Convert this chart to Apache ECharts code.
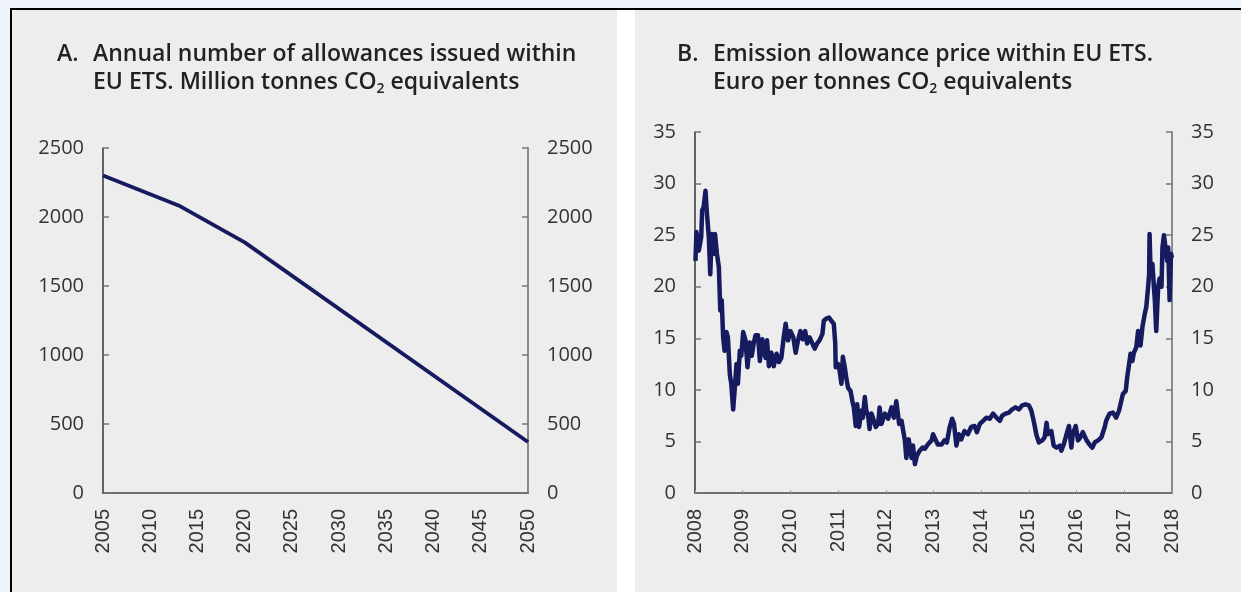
<!DOCTYPE html>
<html>
<head>
<meta charset="utf-8">
<script src="https://cdn.jsdelivr.net/npm/echarts@6/dist/echarts.min.js"></script>
<style>
html,body{margin:0;padding:0;background:#eef3fb;}
#c{width:1241px;height:592px;}
</style>
</head>
<body>
<div id="c"></div>
<script>
// Panel A: annual allowances (million tonnes CO2 eq.)
const allowYears = [2005, 2013, 2020, 2050];
const allowValues = [2300, 2084, 1816, 370];
const allowXTicks = [2005, 2010, 2015, 2020, 2025, 2030, 2035, 2040, 2045, 2050];
const allowYTicks = [0, 500, 1000, 1500, 2000, 2500];

// Panel B: allowance price (euro per tonne), time as fractional year
const priceTimes = [
 2008.01,2008.03,2008.08,2008.13,2008.15,2008.18,2008.22,2008.25,2008.29,2008.32,2008.35,2008.40,2008.42,2008.46,2008.50,2008.53,2008.56,2008.59,2008.62,2008.66,2008.69,2008.73,2008.76,2008.80,2008.83,2008.87,2008.90,2008.94,2008.97,
 2009.01,2009.06,2009.10,2009.15,2009.19,2009.23,2009.27,2009.32,2009.36,2009.41,2009.45,2009.48,2009.51,2009.55,2009.60,2009.65,2009.71,2009.76,2009.81,2009.86,2009.90,2009.95,
 2010.00,2010.06,2010.11,2010.16,2010.21,2010.26,2010.31,2010.35,2010.40,2010.46,2010.51,2010.56,2010.61,2010.67,2010.70,2010.75,2010.81,2010.86,2010.91,2010.94,2010.95,
 2011.00,2011.03,2011.07,2011.10,2011.14,2011.17,2011.21,2011.26,2011.30,2011.33,2011.37,2011.40,2011.44,2011.49,2011.52,2011.56,2011.59,2011.63,2011.66,2011.70,2011.75,2011.79,2011.84,2011.87,2011.91,2011.98,
 2012.05,2012.12,2012.17,2012.22,2012.28,2012.33,2012.40,2012.43,2012.48,2012.54,2012.57,2012.61,2012.65,2012.71,2012.77,2012.82,2012.88,2012.96,2012.99,
 2013.05,2013.09,2013.17,2013.23,2013.28,2013.34,2013.39,2013.43,2013.48,2013.53,2013.58,2013.65,2013.72,2013.79,2013.86,2013.91,2013.97,
 2014.04,2014.11,2014.18,2014.25,2014.32,2014.39,2014.44,2014.51,2014.58,2014.65,2014.72,2014.79,2014.86,2014.93,
 2015.00,2015.05,2015.10,2015.16,2015.21,2015.28,2015.33,2015.37,2015.40,2015.47,2015.52,2015.58,2015.65,2015.68,2015.73,2015.79,2015.84,2015.89,2015.92,2015.98,
 2016.03,2016.08,2016.13,2016.21,2016.27,2016.33,2016.38,2016.45,2016.52,2016.59,2016.62,2016.69,2016.76,2016.83,2016.89,2016.94,2016.97,
 2017.03,2017.06,2017.10,2017.13,2017.17,2017.20,2017.25,2017.29,2017.32,2017.34,2017.38,2017.43,2017.46,2017.50,2017.52,2017.53,2017.55,2017.59,2017.62,2017.64,2017.67,2017.71,2017.74,2017.78,2017.80,2017.83,2017.87,2017.90,2017.92,2017.95,2017.98,2018.00
];
const priceValues = [
 22.5,25.3,23.5,24.8,27.4,27.7,29.3,27.1,24.8,21.2,25.1,23.2,25.1,23.2,21.9,17.7,18.7,15.1,13.8,15.6,15.1,11.5,10.6,8.1,9.9,12.5,10.6,13.8,13.3,
 15.6,14.8,12.2,14.6,13.3,14.5,15.3,15.3,12.8,14.9,13.6,13.1,14.8,12.3,13.6,12.3,13.5,12.7,13.1,15.1,16.4,14.8,
 15.7,15.1,13.6,14.8,15.7,14.9,15.7,14.5,15.1,14.5,14.0,14.5,14.8,15.4,16.7,16.9,17.0,16.7,16.4,14.5,12.2,
 12.5,11.9,10.6,13.2,12.2,11.2,10.2,9.9,8.9,8.3,6.5,8.6,6.4,8.0,7.3,9.3,8.0,7.5,6.2,7.7,7.0,6.4,6.7,8.3,6.7,7.7,
 7.2,8.3,7.3,8.9,6.7,7.0,5.1,3.4,5.2,3.4,4.6,2.8,3.6,4.1,4.4,4.3,4.7,5.1,5.7,
 5.1,4.7,4.7,5.1,4.9,6.4,7.2,6.7,4.6,5.7,5.2,6.0,5.7,6.4,6.5,5.9,6.7,
 7.0,7.3,7.2,7.7,7.3,7.0,7.5,7.7,7.8,8.1,8.3,8.1,8.5,8.6,
 8.5,8.0,7.0,5.6,4.9,5.1,5.4,6.8,5.7,6.0,4.6,4.4,4.6,4.1,4.7,5.7,6.5,4.4,5.7,6.5,
 5.1,5.4,5.9,5.1,4.7,4.4,4.9,5.1,5.4,6.4,7.0,7.7,7.8,7.3,8.0,9.0,9.6,
 9.9,11.2,12.5,13.5,12.8,13.6,14.1,15.7,15.4,14.3,16.1,17.4,18.0,20.0,21.2,25.1,21.6,22.2,20.0,18.7,15.7,20.0,20.8,20.0,23.8,25.0,25.0,22.5,23.8,18.7,23.2,22.8
];
const priceXTicks = [2008,2009,2010,2011,2012,2013,2014,2015,2016,2017,2018];
const priceYTicks = [0,5,10,15,20,25,30,35];

const titleA1 = 'Annual number of allowances issued within';
const titleA2 = 'EU ETS. Million tonnes CO';
const titleB1 = 'Emission allowance price within EU ETS.';
const titleB2 = 'Euro per tonnes CO';
const titleTail = ' equivalents';

const lineColor = '#151b5e';
const txt = '#333333';
const fontMain = '"Open Sans", sans-serif';
const fontX = '"Liberation Sans", Arial, sans-serif';

const chart = echarts.init(document.getElementById('c'), null, {renderer: 'canvas'});

const titleRich = {
  sub: {fontSize: 14, fontWeight: 600, fontFamily: fontMain, color: '#222', lineHeight: 14, padding: [14, 0, 0, 0], verticalAlign: 'bottom'}
};
function mkTitle(left, text) {
  return {
    left: left, top: 40, padding: 0,
    text: text,
    textStyle: {fontFamily: fontMain, fontSize: 23, fontWeight: 600, color: '#222', lineHeight: 28, rich: titleRich}
  };
}

function yAxes(gi, ticks) {
  const mn = ticks[0], mx = ticks[ticks.length - 1], iv = ticks[1] - ticks[0];
  const common = {
    type: 'value', gridIndex: gi, min: mn, max: mx, interval: iv,
    splitLine: {show: false},
    axisTick: {show: true, inside: true, length: 6, lineStyle: {color: '#777', width: 1.5}},
    axisLabel: {margin: 19, fontFamily: fontMain, fontSize: 20, color: txt, formatter: v => String(v)}
  };
  return [
    Object.assign({}, common, {position: 'left', axisLine: {show: true, onZero: false, lineStyle: {color: '#333', width: 1.5}}}),
    Object.assign({}, common, {position: 'right', axisLine: {show: true, onZero: false, lineStyle: {color: '#8a8a8a', width: 2}}})
  ];
}

function xAxis(gi, ticks, showTick) {
  return {
    type: 'value', gridIndex: gi, min: ticks[0], max: ticks[ticks.length - 1], interval: ticks[1] - ticks[0],
    splitLine: {show: false},
    axisLine: {show: true, onZero: false, lineStyle: {color: '#444', width: 1.5}},
    axisTick: {show: showTick, inside: true, length: 3, lineStyle: {color: '#999', width: 1}},
    axisLabel: {rotate: 90, margin: 16, fontFamily: fontX, fontSize: 20, color: txt, formatter: v => String(v)}
  };
}

const option = {
  backgroundColor: '#eef3fb',
  animation: false,
  graphic: [
    {type: 'rect', silent: true, z: -10, shape: {x: 10, y: 8, width: 1300, height: 700}, style: {fill: '#000'}},
    {type: 'rect', silent: true, z: -9, shape: {x: 12, y: 10, width: 1300, height: 700}, style: {fill: '#ffffff'}},
    {type: 'rect', silent: true, z: -8, shape: {x: 12, y: 10, width: 605, height: 700}, style: {fill: '#ededed'}},
    {type: 'rect', silent: true, z: -8, shape: {x: 635, y: 10, width: 700, height: 700}, style: {fill: '#ededed'}}
  ],
  title: [
    mkTitle(57, 'A.'),
    mkTitle(93, titleA1 + '\n' + titleA2 + '{sub|2}' + titleTail),
    mkTitle(677, 'B.'),
    mkTitle(713, titleB1 + '\n' + titleB2 + '{sub|2}' + titleTail)
  ],
  grid: [
    {left: 103, right: 1241 - 528, top: 148, bottom: 592 - 493},
    {left: 695, right: 1241 - 1172, top: 132, bottom: 592 - 493}
  ],
  xAxis: [xAxis(0, allowXTicks, false), xAxis(1, priceXTicks, true)],
  yAxis: yAxes(0, allowYTicks).concat(yAxes(1, priceYTicks)),
  series: [
    {type: 'line', xAxisIndex: 0, yAxisIndex: 0, showSymbol: false, symbol: 'none',
     lineStyle: {color: lineColor, width: 3.8}, data: allowYears.map((y, i) => [y, allowValues[i]])},
    {type: 'line', xAxisIndex: 1, yAxisIndex: 2, showSymbol: false, symbol: 'none',
     lineStyle: {color: lineColor, width: 4.5, join: 'round'}, data: priceTimes.map((t, i) => [t, priceValues[i]])}
  ]
};
chart.setOption(option);
</script>
</body>
</html>
